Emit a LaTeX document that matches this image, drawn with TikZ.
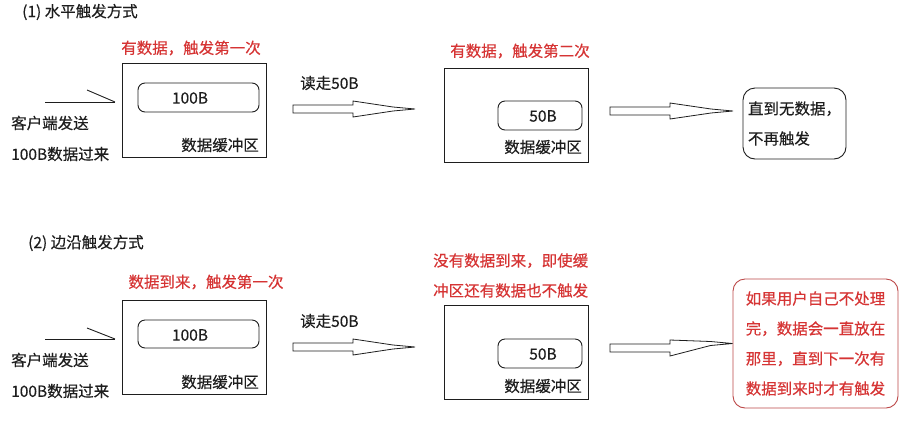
\documentclass[tikz,border=0pt]{standalone}
\usepackage{fontspec}
\setmainfont{Noto Sans CJK SC}[FakeBold=0.35]
\usetikzlibrary{calc}
\definecolor{alert}{RGB}{214,52,52}
\definecolor{alertframe}{RGB}{188,72,72}
\definecolor{ink}{RGB}{30,30,30}
\tikzset{
  txt/.style={inner sep=0pt, font=\fontsize{15.5}{30}\selectfont, text=ink},
  redtxt/.style={txt, text=alert},
  buffer/.style={draw=ink, line width=1pt, minimum width=144pt, minimum height=94pt, inner sep=0pt},
  chunk/.style={draw=ink, line width=0.9pt, rounded corners=7pt, inner sep=0pt},
  note/.style={draw=ink, line width=0.9pt, rounded corners=12pt, align=left, inner sep=0pt,
    font=\fontsize{15.5}{30}\selectfont, text=ink},
  rednote/.style={note, draw=alertframe, text=alert},
  fatarrow/.style={draw=ink, line width=0.8pt, fill=white, line join=miter},
  feed/.style={draw=ink, line width=0.9pt},
}
% hollow block arrow from #1 to #2 (same height)
\newcommand\fatarrow[2]{%
  \draw[fatarrow] ($(#1)+(0,-4)$) -- ($(#1)+(60,-4)$) -- ($(#1)+(60,-8)$)
    -- ($(#2)+(-22,-2)$) -- (#2) -- ($(#2)+(-22,2)$)
    -- ($(#1)+(60,8)$) -- ($(#1)+(60,4)$) -- ($(#1)+(0,4)$) -- cycle;}
\begin{document}
\begin{tikzpicture}[x=1pt,y=-1pt]
\useasboundingbox[fill=white] (0,0) rectangle (916,424);

% ---------- (1) level triggered ----------
\node[txt, anchor=west] (t1) at (22,12) {(1) 水平触发方式};

\node[buffer] (b11) at (194,110) {};
\node[chunk, minimum width=121pt, minimum height=29pt] (c11) at (198.5,97.5) {};
\node[txt] (v11) at (190,98) {100B};
\node[txt, anchor=east] (l11) at (259,145) {数据缓冲区};
\node[redtxt] (r11) at (191,48) {有数据，触发第一次};

\node[txt, anchor=west] (s11) at (11,123) {客户端发送};
\node[txt, anchor=west] (s12) at (11,154) {100B数据过来};
\coordinate (f1a) at (45,102);
\coordinate (f1b) at (115,102);
\draw[feed] (f1a) -- (f1b);
\draw[feed] (f1b) -- ++(-28,-12);

\node[txt, anchor=west] (k11) at (300,83) {读走50B};
\coordinate (a11s) at (293,109);
\coordinate (a11e) at (415,109);
\fatarrow{a11s}{a11e}

\node[buffer] (b12) at (516.5,115) {};
\node[chunk, minimum width=84pt, minimum height=29pt] (c12) at (540,115.5) {};
\node[txt] (v12) at (543,116) {50B};
\node[txt, anchor=east] (l12) at (582,147) {数据缓冲区};
\node[redtxt] (r12) at (520,51) {有数据，触发第二次};

\coordinate (a12s) at (610,111);
\coordinate (a12e) at (733,111);
\fatarrow{a12s}{a12e}

\node[note, minimum width=103pt, minimum height=71pt] (n1) at (794.5,123.5)
  {直到无数据，\\不再触发};

% ---------- (2) edge triggered ----------
\node[txt, anchor=west] (t2) at (28,243) {(2) 边沿触发方式};

\node[buffer] (b21) at (194,347.5) {};
\node[chunk, minimum width=121pt, minimum height=28pt] (c21) at (198.5,334) {};
\node[txt] (v21) at (190,335) {100B};
\node[txt, anchor=east] (l21) at (259,382) {数据缓冲区};
\node[redtxt] (r21) at (206,282) {数据到来，触发第一次};

\node[txt, anchor=west] (s21) at (11,360) {客户端发送};
\node[txt, anchor=west] (s22) at (11,391) {100B数据过来};
\coordinate (f2a) at (45,339);
\coordinate (f2b) at (115,339);
\draw[feed] (f2a) -- (f2b);
\draw[feed] (f2b) -- ++(-28,-11);

\node[txt, anchor=west] (k21) at (300,321) {读走50B};
\coordinate (a21s) at (293,347);
\coordinate (a21e) at (415,347);
\fatarrow{a21s}{a21e}

\node[buffer] (b22) at (516.5,352.5) {};
\node[chunk, minimum width=84pt, minimum height=29pt] (c22) at (540,353.5) {};
\node[txt] (v22) at (543,354) {50B};
\node[txt, anchor=east] (l22) at (582,386) {数据缓冲区};
\node[redtxt, align=left, anchor=west] (r22) at (433,275.5)
  {没有数据到来，即使缓\\冲区还有数据也不触发};

\node[rednote, minimum width=165pt, minimum height=129pt] (n2) at (815.5,343.5)
  {如果用户自己不处理\\完，数据会一直放在\\那里，直到下一次有\\数据到来时才有触发};

\coordinate (a22s) at (610,348);
\fatarrow{a22s}{n2.west}
\end{tikzpicture}
\end{document}
